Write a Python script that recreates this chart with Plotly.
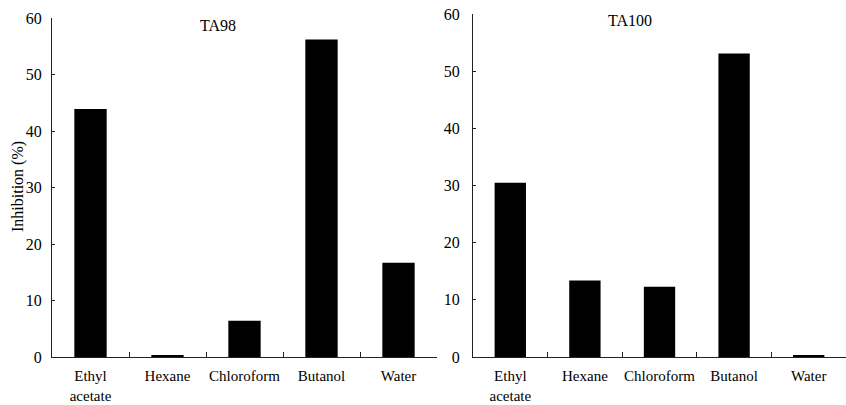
import plotly.graph_objects as go

categories = ["Ethyl<br>acetate", "Hexane", "Chloroform", "Butanol", "Water"]
ta98_values = [43.9, 0.3, 6.4, 56.2, 16.7]
ta100_values = [30.5, 13.4, 12.3, 53.1, 0.2]
y_ticks = [0, 10, 20, 30, 40, 50, 60]

W, H = 846, 405
FONT = "Liberation Serif"

def px_x(p):
    return p / W

def px_y(p):
    return 1 - p / H

fig = go.Figure()
fig.add_trace(go.Bar(x=categories, y=ta98_values, marker=dict(color="black", line=dict(width=0)),
                     xaxis="x", yaxis="y", showlegend=False))
fig.add_trace(go.Bar(x=categories, y=ta100_values, marker=dict(color="black", line=dict(width=0)),
                     xaxis="x2", yaxis="y2", showlegend=False))

xcommon = dict(type="category", showline=True, linecolor="#222", linewidth=1,
               ticks="inside", tickson="boundaries", ticklen=5, tickcolor="#222",
               showgrid=False, zeroline=False, tickangle=0, automargin=False,
               tickfont=dict(family=FONT, size=15, color="black"),
               ticklabelstandoff=5)
ycommon = dict(range=[0, 60], tickvals=y_ticks, showline=True, linecolor="#222", linewidth=1,
               ticks="inside", ticklen=3, tickcolor="#222", showgrid=False, zeroline=False,
               automargin=False,
               tickfont=dict(family=FONT, size=16, color="black"))

fig.update_layout(
    width=W, height=H, margin=dict(l=0, r=0, t=0, b=0),
    paper_bgcolor="white", plot_bgcolor="white", bargap=0.58,
    xaxis=dict(domain=[px_x(52), px_x(437)], anchor="y", **xcommon),
    xaxis2=dict(domain=[px_x(473), px_x(846)], anchor="y2", **xcommon),
    yaxis=dict(domain=[px_y(357), px_y(18)], anchor="x", ticklabelstandoff=6, **ycommon),
    yaxis2=dict(domain=[px_y(357), px_y(14)], anchor="x2", ticklabelstandoff=9, **ycommon),
    annotations=[
        dict(text="TA98", x=px_x(218), y=px_y(25), xref="paper", yref="paper",
             showarrow=False, font=dict(family=FONT, size=16, color="black"),
             xanchor="center", yanchor="middle"),
        dict(text="TA100", x=px_x(630), y=px_y(21), xref="paper", yref="paper",
             showarrow=False, font=dict(family=FONT, size=16, color="black"),
             xanchor="center", yanchor="middle"),
        dict(text="Inhibition (%)", x=px_x(18), y=px_y(187), xref="paper", yref="paper",
             showarrow=False, textangle=-90, font=dict(family=FONT, size=16, color="black"),
             xanchor="center", yanchor="middle"),
    ],
)

fig.write_html("out.html")
